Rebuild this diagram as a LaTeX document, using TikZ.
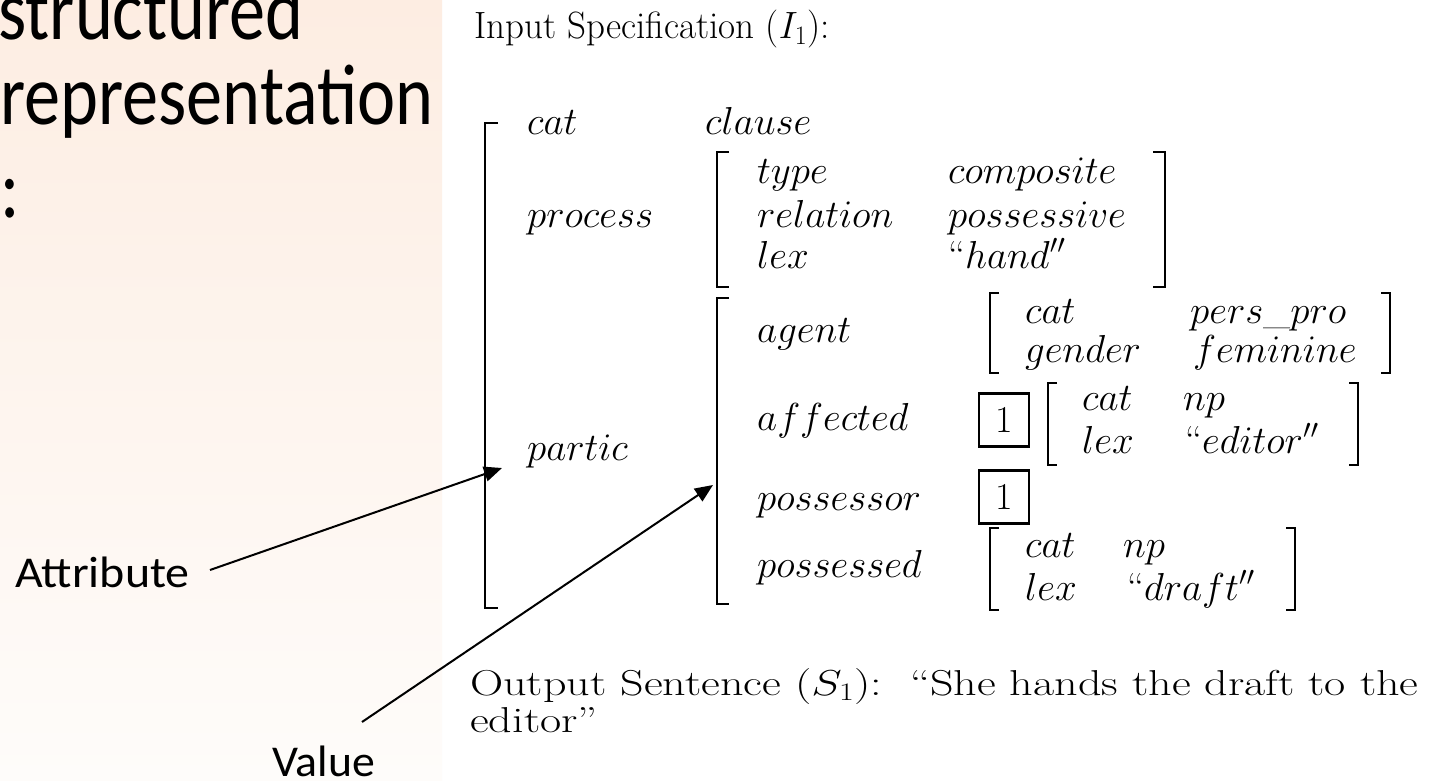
\documentclass[tikz,border=0pt]{standalone}
\usepackage{fix-cm}
\usepackage{fontspec}
\newfontfamily\calib{Carlito}
\usetikzlibrary{arrows.meta}
\definecolor{peachtop}{RGB}{253,237,226}
\definecolor{peachbot}{RGB}{254,252,250}
\tikzset{
  fs/.style={anchor=base west, inner sep=0pt, font=\fontsize{39}{39}\selectfont},
  rm/.style={anchor=base west, inner sep=0pt, font=\fontsize{38}{38}\selectfont},
  slide/.style={anchor=base west, inner sep=0pt, xscale=0.84, font=\calib\fontsize{86}{86}\selectfont},
  lbl/.style={anchor=base west, inner sep=0pt, font=\calib\fontsize{44}{44}\selectfont},
  brk/.style={line width=2.8pt, line cap=butt},
  tagbox/.style={draw, line width=2.8pt, minimum width=50pt, minimum height=53pt, inner sep=0pt, font=\fontsize{38}{38}\selectfont},
  pointer/.style={line width=2pt, -{Triangle[length=18pt,width=15pt]}}
}
\begin{document}
\begin{tikzpicture}[x=1pt,y=-1pt]
\useasboundingbox (0,0) rectangle (1433,781);
\fill[white] (0,0) rectangle (1433,781);
\shade[top color=peachtop, bottom color=peachbot] (0,0) rectangle (442,781);

% slide text
\node[slide] (t1) at (-2,40) {structured};
\node[slide] (t2) at (0,125) {representation};
\node[slide] (t3) at (0,218) {:};
\node[lbl, xscale=1.09] (attr) at (15,587) {Attribute};
\node[lbl, xscale=1.04] (val) at (272,776) {Value};

% heading
\node[rm, xscale=0.975] (head) at (474,39) {Input Specification ($I_1$):};

% outer bracket
\draw[brk] (498,123) -- (485,123) -- (485,608) -- (498,608);
\node[fs] (kcat) at (527,135) {$cat$};
\node[fs] (vclause) at (705,135) {$clause$};
\node[fs] (kproc) at (527,227) {$process$};
\node[fs] (kpartic) at (527,460) {$partic$};

% process bracket
\draw[brk] (729,152) -- (717,152) -- (717,287) -- (729,287);
\draw[brk] (1153,152) -- (1165,152) -- (1165,287) -- (1153,287);
\node[fs] (ktype) at (757,183) {$type$};
\node[fs] (vcomp) at (948,183) {$composite$};
\node[fs] (krel) at (757,227) {$relation$};
\node[fs] (vposs) at (948,227) {$possessive$};
\node[fs] (klex) at (757,268) {$lex$};
\node[fs] (vhand) at (948,268) {``$hand''$};

% partic bracket
\draw[brk] (729,298) -- (717,298) -- (717,604) -- (729,604);
\node[fs] (kagent) at (757,342) {$agent$};
\node[fs] (kaff) at (757,430) {$affected$};
\node[fs] (kpsr) at (757,510) {$possessor$};
\node[fs] (kpsd) at (757,577) {$possessed$};

% agent
\draw[brk] (999,293) -- (990,293) -- (990,373) -- (999,373);
\draw[brk] (1381,293) -- (1390,293) -- (1390,373) -- (1381,373);
\node[fs] (acat) at (1025,323) {$cat$};
\node[fs] (apers) at (1190,323) {$pers\_pro$};
\node[fs] (agen) at (1025,362) {$gender$};
\node[fs] (afem) at (1193,362) {$feminine$};

% affected
\node[tagbox] (box1) at (1004,420) {1};
\draw[brk] (1057,383) -- (1048,383) -- (1048,465) -- (1057,465);
\draw[brk] (1349,383) -- (1358,383) -- (1358,465) -- (1349,465);
\node[fs] (fcat) at (1082,410) {$cat$};
\node[fs] (fnp) at (1183,410) {$np$};
\node[fs] (flex) at (1082,453) {$lex$};
\node[fs] (fed) at (1185,453) {``$editor''$};

% possessor
\node[tagbox] (box2) at (1004,497) {1};

% possessed
\draw[brk] (999,528) -- (990,528) -- (990,610) -- (999,610);
\draw[brk] (1286,528) -- (1295,528) -- (1295,610) -- (1286,610);
\node[fs] (dcat) at (1025,557) {$cat$};
\node[fs] (dnp) at (1123,557) {$np$};
\node[fs] (dlex) at (1025,600) {$lex$};
\node[fs] (ddr) at (1127,600) {``$draft''$};

% output sentence
\node[rm, xscale=1.28, font=\fontsize{36}{36}\selectfont] (out1) at (470,695) {Output Sentence ($S_1$):\ \ ``She hands the draft to the};
\node[rm, xscale=1.28, font=\fontsize{36}{36}\selectfont] (out2) at (470,732) {editor''};

% pointers
\coordinate (attrS) at (210,570);
\coordinate (attrT) at (502,468);
\coordinate (valS) at (362,722);
\coordinate (valT) at (713,485);
\draw[pointer] (attrS) -- (attrT);
\draw[pointer] (valS) -- (valT);
\end{tikzpicture}
\end{document}
